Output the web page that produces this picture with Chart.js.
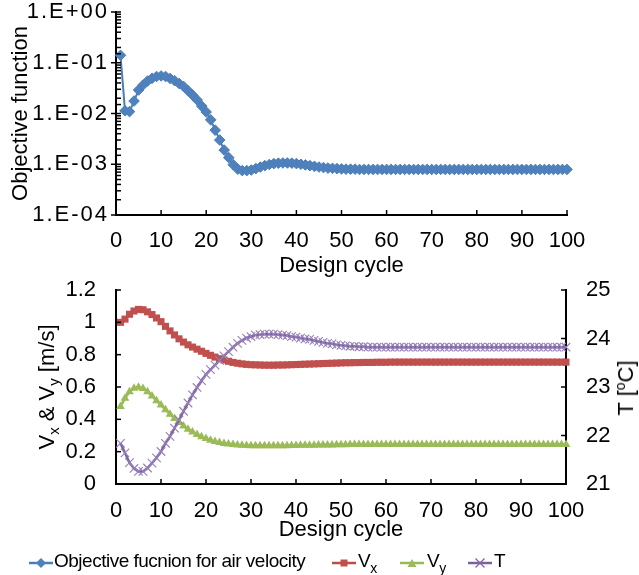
<!DOCTYPE html>
<html>
<head>
<meta charset="utf-8">
<script src="https://cdn.jsdelivr.net/npm/chart.js@4.4.1/dist/chart.umd.min.js"></script>
<style>
html, body { margin: 0; padding: 0; background: #fff; }
#wrap { position: relative; width: 639px; height: 575px; overflow: hidden; font-family: "Liberation Sans", Arial, sans-serif; color: #000; }
canvas { position: absolute; left: 0; top: 0; }
.rot { position: absolute; white-space: nowrap; font-size: 22px; line-height: 26px; transform: translate(-50%, -50%) rotate(-90deg); }
.rot sub { font-size: 15px; vertical-align: -5px; line-height: 0; }
.rot sup { font-size: 14px; vertical-align: 8px; line-height: 0; }
.sym { position: absolute; top: 557px; }
.lt { position: absolute; top: 550px; font-size: 19px; line-height: 22px; white-space: nowrap; letter-spacing: -0.5px; }
.lt sub { font-size: 14px; vertical-align: -6px; line-height: 0; letter-spacing: 0; }
</style>
</head>
<body>
<div id="wrap">
  <canvas id="c1" width="639" height="575"></canvas>
  <canvas id="c2" width="639" height="575"></canvas>
  <div class="rot" style="left:47px; top:387px;">V<sub>x</sub> &amp; V<sub>y</sub> [m/s]</div>
  <div class="rot" style="left:626px; top:388px;">T [<sup>o</sup>C]</div>

  <svg class="sym" style="left:28px" width="26" height="12"><line x1="1" y1="6" x2="25" y2="6" stroke="#4A7EBB" stroke-width="2.5"/><polygon points="13,1 18,6 13,11 8,6" fill="#4F81BD"/></svg>
  <span class="lt" style="left:54px">Objective fucnion for air velocity</span>

  <svg class="sym" style="left:331px" width="26" height="12"><line x1="1" y1="6" x2="25" y2="6" stroke="#BE4B48" stroke-width="2.5"/><rect x="9.5" y="2.5" width="7" height="7" fill="#C0504D"/></svg>
  <span class="lt" style="left:358px">V<sub>x</sub></span>

  <svg class="sym" style="left:399px" width="26" height="12"><line x1="1" y1="6" x2="25" y2="6" stroke="#98B954" stroke-width="2.5"/><polygon points="13,2 17.5,10 8.5,10" fill="#9BBB59"/></svg>
  <span class="lt" style="left:427px">V<sub>y</sub></span>

  <svg class="sym" style="left:467px" width="26" height="12"><line x1="1" y1="6" x2="25" y2="6" stroke="#7D60A0" stroke-width="2.5"/><line x1="8.5" y1="1.5" x2="17.5" y2="10.5" stroke="#8064A2" stroke-width="1.2"/><line x1="17.5" y1="1.5" x2="8.5" y2="10.5" stroke="#8064A2" stroke-width="1.2"/></svg>
  <span class="lt" style="left:494px">T</span>
</div>

<script>
// ---------------- DATA ----------------
const cycles = [];
for (let i = 1; i <= 100; i++) cycles.push(i);

const objective = [
  0.14, 0.0113, 0.0109, 0.0176, 0.029, 0.0365, 0.0437, 0.0493, 0.0535, 0.055,
  0.0535, 0.049, 0.0443, 0.039, 0.034, 0.028, 0.023, 0.0185, 0.014, 0.0107,
  0.0075, 0.0047, 0.0030, 0.0019, 0.00135, 0.00098, 0.00080, 0.00075, 0.00075, 0.00077,
  0.00082, 0.00088, 0.00094, 0.00099, 0.00103, 0.00105, 0.00106, 0.00106, 0.00105, 0.00103,
  0.00100, 0.00097, 0.00094, 0.00091, 0.00088, 0.00086, 0.00084, 0.00083, 0.00082, 0.00081,
  0.00080, 0.00080, 0.00080, 0.00079, 0.00079, 0.00079, 0.00079, 0.00079, 0.00079, 0.00079,
  0.00079, 0.00079, 0.00079, 0.00079, 0.00079, 0.00079, 0.00079, 0.00079, 0.00079, 0.00079,
  0.00079, 0.00079, 0.00079, 0.00079, 0.00079, 0.00079, 0.00079, 0.00079, 0.00079, 0.00079,
  0.00079, 0.00079, 0.00079, 0.00079, 0.00079, 0.00079, 0.00079, 0.00079, 0.00079, 0.00079,
  0.00079, 0.00079, 0.00079, 0.00079, 0.00079, 0.00079, 0.00079, 0.00079, 0.00079, 0.00079
];

const vx = [
  1.00, 1.02, 1.05, 1.07, 1.08, 1.078, 1.065, 1.048, 1.027, 1.004,
  0.975, 0.947, 0.922, 0.898, 0.878, 0.861, 0.847, 0.834, 0.821, 0.808,
  0.796, 0.785, 0.775, 0.767, 0.759, 0.752, 0.747, 0.743, 0.740, 0.738,
  0.737, 0.736, 0.735, 0.735, 0.735, 0.736, 0.736, 0.737, 0.738, 0.739,
  0.740, 0.741, 0.742, 0.743, 0.744, 0.745, 0.746, 0.747, 0.748, 0.749,
  0.750, 0.750, 0.751, 0.751, 0.752, 0.752, 0.752, 0.753, 0.753, 0.753,
  0.754, 0.754, 0.754, 0.754, 0.754, 0.754, 0.754, 0.754, 0.754, 0.754,
  0.754, 0.754, 0.754, 0.754, 0.754, 0.754, 0.754, 0.754, 0.754, 0.754,
  0.754, 0.754, 0.754, 0.754, 0.754, 0.754, 0.754, 0.754, 0.754, 0.754,
  0.754, 0.754, 0.754, 0.754, 0.754, 0.754, 0.754, 0.754, 0.754, 0.754
];

const vy = [
  0.48, 0.53, 0.57, 0.592, 0.598, 0.59, 0.57, 0.545, 0.515, 0.488,
  0.46, 0.432, 0.405, 0.38, 0.358, 0.338, 0.321, 0.306, 0.292, 0.281,
  0.271, 0.263, 0.256, 0.251, 0.247, 0.244, 0.241, 0.239, 0.238, 0.237,
  0.236, 0.236, 0.236, 0.236, 0.236, 0.236, 0.237, 0.237, 0.238, 0.238,
  0.239, 0.239, 0.240, 0.240, 0.241, 0.241, 0.242, 0.242, 0.243, 0.243,
  0.243, 0.244, 0.244, 0.244, 0.244, 0.245, 0.245, 0.245, 0.245, 0.245,
  0.245, 0.245, 0.245, 0.245, 0.245, 0.245, 0.245, 0.245, 0.245, 0.245,
  0.245, 0.245, 0.245, 0.245, 0.245, 0.245, 0.245, 0.245, 0.245, 0.245,
  0.245, 0.245, 0.245, 0.245, 0.245, 0.245, 0.245, 0.245, 0.245, 0.245,
  0.245, 0.245, 0.245, 0.245, 0.245, 0.245, 0.245, 0.245, 0.245, 0.245
];

const temp = [
  21.84, 21.64, 21.44, 21.32, 21.26, 21.26, 21.33, 21.43, 21.54, 21.67,
  21.84, 21.98, 22.15, 22.32, 22.50, 22.67, 22.84, 22.99, 23.13, 23.26,
  23.36, 23.45, 23.55, 23.64, 23.73, 23.82, 23.90, 23.96, 24.01, 24.04,
  24.07, 24.08, 24.09, 24.09, 24.09, 24.08, 24.07, 24.06, 24.04, 24.03,
  24.01, 23.99, 23.98, 23.96, 23.94, 23.92, 23.90, 23.89, 23.87, 23.86,
  23.85, 23.84, 23.84, 23.83, 23.83, 23.82, 23.82, 23.82, 23.82, 23.82,
  23.82, 23.82, 23.82, 23.82, 23.82, 23.82, 23.82, 23.82, 23.82, 23.82,
  23.82, 23.82, 23.82, 23.82, 23.82, 23.82, 23.82, 23.82, 23.82, 23.82,
  23.82, 23.82, 23.82, 23.82, 23.82, 23.82, 23.82, 23.82, 23.82, 23.82,
  23.82, 23.82, 23.82, 23.82, 23.82, 23.82, 23.82, 23.82, 23.82, 23.82
];

const xTickValues = [0, 10, 20, 30, 40, 50, 60, 70, 80, 90, 100];
const vTickValues = [0, 0.2, 0.4, 0.6, 0.8, 1, 1.2];
const tTickValues = [21, 22, 23, 24, 25];

// ---------------- HELPERS ----------------
Chart.defaults.font.family = '"Liberation Sans", Arial, sans-serif';
Chart.defaults.color = '#000';
const FS = 22;

function pts(ys) { return cycles.map((c, i) => ({ x: c, y: ys[i] })); }

function isPow10(v) {
  const e = Math.log10(v);
  return Math.abs(e - Math.round(e)) < 1e-6;
}
function sciLabel(v) {
  const e = Math.round(Math.log10(v));
  const a = Math.abs(e);
  return '1.E' + (e < 0 ? '-' : '+') + (a < 10 ? '0' + a : '' + a);
}
function noPad(s) { s.paddingTop = 0; s.paddingBottom = 0; s.paddingLeft = 0; s.paddingRight = 0; }

function makeTicks(specs) {
  return {
    id: 'inTicks',
    beforeDraw(chart) {
      // wider letter spacing for the scientific labels of the log axis
      specs.forEach(sp => {
        if (!sp.spacing) return;
        const s = chart.scales[sp.id];
        if (s._wrapped) return;
        const orig = s.drawLabels;
        s.drawLabels = function (ca) {
          const ctx = this.ctx;
          ctx.save();
          try { ctx.letterSpacing = sp.spacing; } catch (e) {}
          orig.call(this, ca);
          ctx.restore();
        };
        s._wrapped = true;
      });
    },
    afterDraw(chart) {
      const ctx = chart.ctx, ca = chart.chartArea;
      ctx.save();
      ctx.strokeStyle = '#000';
      ctx.lineWidth = 1.5;
      specs.forEach(sp => {
        const s = chart.scales[sp.id];
        s.ticks.forEach(t => {
          const major = sp.isMajor ? sp.isMajor(t.value) : true;
          const len = major ? sp.major : sp.minor;
          const p = s.getPixelForValue(t.value);
          ctx.beginPath();
          if (sp.side === 'bottom') { ctx.moveTo(p, ca.bottom + len[0]); ctx.lineTo(p, ca.bottom - len[1]); }
          else if (sp.side === 'left') { ctx.moveTo(ca.left - len[0], p); ctx.lineTo(ca.left + len[1], p); }
          else { ctx.moveTo(ca.right + len[0], p); ctx.lineTo(ca.right - len[1], p); }
          ctx.stroke();
        });
      });
      ctx.restore();
    }
  };
}

const gridOff = { display: true, drawOnChartArea: false, drawTicks: false };
const borderOn = { display: true, color: '#000', width: 2 };

// ---------------- TOP CHART ----------------
new Chart(document.getElementById('c1'), {
  type: 'line',
  data: {
    datasets: [{
      label: 'Objective fucnion for air velocity',
      data: pts(objective),
      borderColor: '#4A7EBB',
      backgroundColor: '#4F81BD',
      borderWidth: 2,
      pointStyle: 'rectRot',
      pointRadius: 5.3,
      pointBorderWidth: 1,
      pointBorderColor: '#4A7EBB',
      pointBackgroundColor: '#4F81BD',
      clip: false,
      tension: 0
    }]
  },
  options: {
    responsive: false,
    animation: false,
    events: [],
    layout: { padding: { left: 0, top: 12, right: 72, bottom: 295 } },
    plugins: { legend: { display: false }, tooltip: { enabled: false } },
    scales: {
      x: {
        type: 'linear', min: 0, max: 100,
        afterBuildTicks(s) { s.ticks = xTickValues.map(v => ({ value: v })); },
        ticks: { font: { size: FS }, color: '#000', padding: 13, maxRotation: 0, autoSkip: false },
        grid: gridOff, border: borderOn,
        title: { display: true, text: 'Design cycle', font: { size: FS }, color: '#000', padding: { top: 0, bottom: 1 } },
        afterFit(s) { s.height = 65; noPad(s); }
      },
      y: {
        type: 'logarithmic', min: 1e-4, max: 1,
        ticks: {
          autoSkip: false, font: { size: FS }, color: '#000', padding: 7,
          callback: (v) => isPow10(v) ? sciLabel(v) : ''
        },
        grid: gridOff, border: borderOn,
        title: { display: true, text: 'Objective function', font: { size: FS }, color: '#000', padding: { top: 8, bottom: 0 } },
        afterFit(s) { s.width = 116; noPad(s); }
      }
    }
  },
  plugins: [makeTicks([
    { id: 'x', side: 'bottom', major: [0, 5] },
    { id: 'y', side: 'left', major: [5, 5], minor: [0, 5], isMajor: isPow10, spacing: '2px' }
  ])]
});

// ---------------- BOTTOM CHART ----------------
new Chart(document.getElementById('c2'), {
  type: 'line',
  data: {
    datasets: [{
      label: 'Vx',
      data: pts(vx),
      yAxisID: 'y',
      order: 3,
      borderColor: '#BE4B48',
      backgroundColor: '#C0504D',
      borderWidth: 2.5,
      pointStyle: 'rect',
      pointRadius: 5,
      pointBorderWidth: 0,
      pointBackgroundColor: '#C0504D',
      clip: false,
      tension: 0
    }, {
      label: 'Vy',
      data: pts(vy),
      yAxisID: 'y',
      order: 2,
      borderColor: '#98B954',
      backgroundColor: '#9BBB59',
      borderWidth: 2.5,
      pointStyle: 'triangle',
      pointRadius: 5,
      pointBorderWidth: 0,
      pointBackgroundColor: '#9BBB59',
      clip: false,
      tension: 0
    }, {
      label: 'T',
      data: pts(temp),
      yAxisID: 'y2',
      order: 1,
      borderColor: '#7D60A0',
      backgroundColor: '#8064A2',
      borderWidth: 2.5,
      pointStyle: 'crossRot',
      pointRadius: 6,
      pointBorderWidth: 1.1,
      pointBorderColor: '#9580B8',
      clip: false,
      tension: 0
    }]
  },
  options: {
    responsive: false,
    animation: false,
    events: [],
    layout: { padding: { left: 0, top: 290, right: 0, bottom: 31 } },
    plugins: { legend: { display: false }, tooltip: { enabled: false } },
    scales: {
      x: {
        type: 'linear', min: 0, max: 100,
        afterBuildTicks(s) { s.ticks = xTickValues.map(v => ({ value: v })); },
        ticks: { font: { size: FS }, color: '#000', padding: 14, maxRotation: 0, autoSkip: false },
        grid: gridOff, border: borderOn,
        title: { display: true, text: 'Design cycle', font: { size: FS }, color: '#000', padding: { top: 0, bottom: 1 } },
        afterFit(s) { s.height = 60; noPad(s); }
      },
      y: {
        type: 'linear', position: 'left', min: 0, max: 1.2,
        afterBuildTicks(s) { s.ticks = vTickValues.map(v => ({ value: v })); },
        ticks: { font: { size: FS }, color: '#000', padding: 20, autoSkip: false,
                 callback: (v) => String(Math.round(v * 10) / 10) },
        grid: gridOff, border: borderOn,
        afterFit(s) { s.width = 116; noPad(s); }
      },
      y2: {
        type: 'linear', position: 'right', min: 21, max: 25,
        afterBuildTicks(s) { s.ticks = tTickValues.map(v => ({ value: v })); },
        ticks: { font: { size: FS }, color: '#000', padding: 20, autoSkip: false,
                 callback: (v) => String(Math.round(v)) },
        grid: gridOff, border: borderOn,
        afterFit(s) { s.width = 73; noPad(s); }
      }
    }
  },
  plugins: [makeTicks([
    { id: 'x', side: 'bottom', major: [0, 5] },
    { id: 'y', side: 'left', major: [0, 5] },
    { id: 'y2', side: 'right', major: [0, 5] }
  ])]
});
</script>
</body>
</html>
